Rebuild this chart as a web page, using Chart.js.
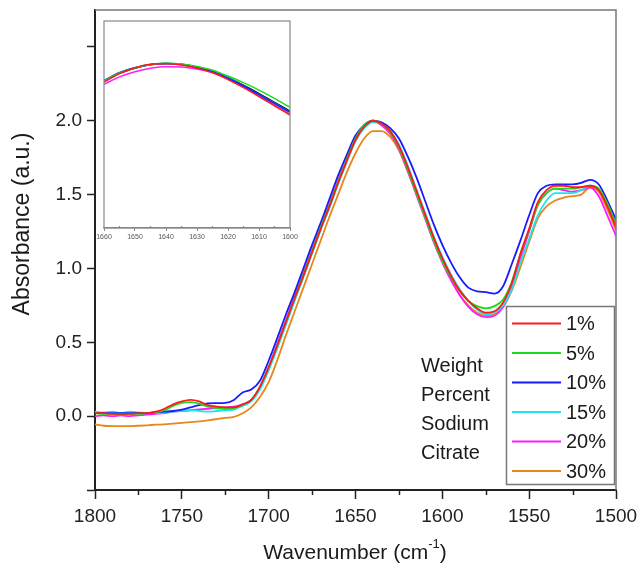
<!DOCTYPE html>
<html>
<head>
<meta charset="utf-8">
<script src="https://cdn.jsdelivr.net/npm/chart.js@4/dist/chart.umd.min.js"></script>
<style>
  body { margin: 0; background: #fff; }
  #wrap { position: relative; width: 639px; height: 569px; }
  #main { position: absolute; left: 0; top: 0; }
  #inset { position: absolute; left: 96px; top: 12px; }
</style>
</head>
<body>
<div id="wrap">
  <canvas id="main" width="639" height="569"></canvas>
  <canvas id="inset" width="206" height="236"></canvas>
</div>
<script>
// wavenumbers (cm-1), main plot
var wavenumbers = [1800, 1795, 1790, 1785, 1780, 1775, 1770, 1765, 1760, 1755, 1750, 1745, 1740, 1735, 1730, 1725, 1720, 1715, 1710, 1705,
  1700, 1695, 1690, 1685, 1680, 1675, 1670, 1665, 1660, 1655, 1650, 1645, 1640, 1635, 1630, 1625, 1620, 1615, 1610, 1605,
  1600, 1595, 1590, 1585, 1580, 1575, 1570, 1565, 1560, 1555, 1550, 1545, 1540, 1535, 1530, 1525, 1520, 1515, 1510, 1505, 1500];

var seriesLabels = ["1%", "5%", "10%", "15%", "20%", "30%"];
var seriesColors = ["#ff1a1a", "#1adc1a", "#1a1aff", "#1ae6f0", "#ff1aff", "#e8861a"];

var pct1 = [0.02, 0.02, 0.015, 0.015, 0.015, 0.02, 0.02, 0.03, 0.05, 0.08, 0.10, 0.11, 0.10, 0.075, 0.065, 0.06, 0.06, 0.08, 0.11, 0.20,
  0.33, 0.48, 0.64, 0.80, 0.95, 1.11, 1.27, 1.42, 1.58, 1.73, 1.87, 1.96, 2.00, 1.98, 1.93, 1.83, 1.69, 1.53, 1.37, 1.21,
  1.07, 0.95, 0.85, 0.78, 0.73, 0.70, 0.71, 0.77, 0.90, 1.10, 1.27, 1.45, 1.53, 1.56, 1.56, 1.55, 1.55, 1.56, 1.53, 1.42, 1.28];
var pct5 = [0.02, 0.015, 0.015, 0.01, 0.015, 0.015, 0.02, 0.025, 0.04, 0.07, 0.09, 0.095, 0.085, 0.065, 0.055, 0.05, 0.055, 0.075, 0.11, 0.20,
  0.33, 0.48, 0.64, 0.80, 0.96, 1.12, 1.28, 1.43, 1.59, 1.74, 1.88, 1.97, 2.00, 1.98, 1.92, 1.82, 1.67, 1.51, 1.35, 1.19,
  1.05, 0.94, 0.85, 0.78, 0.745, 0.73, 0.745, 0.79, 0.91, 1.10, 1.26, 1.43, 1.51, 1.54, 1.54, 1.54, 1.55, 1.56, 1.54, 1.44, 1.30];
var pct10 = [0.02, 0.02, 0.02, 0.02, 0.02, 0.02, 0.02, 0.025, 0.03, 0.035, 0.045, 0.06, 0.075, 0.086, 0.088, 0.09, 0.11, 0.16, 0.18, 0.24,
  0.375, 0.53, 0.69, 0.84, 1.00, 1.16, 1.31, 1.47, 1.63, 1.77, 1.90, 1.97, 2.00, 1.99, 1.95, 1.88, 1.76, 1.62, 1.46, 1.30,
  1.16, 1.04, 0.94, 0.87, 0.845, 0.84, 0.83, 0.88, 1.03, 1.19, 1.36, 1.51, 1.56, 1.57, 1.57, 1.57, 1.58, 1.60, 1.57, 1.46, 1.33];
var pct15 = [0.03, 0.025, 0.03, 0.02, 0.03, 0.025, 0.02, 0.02, 0.025, 0.03, 0.035, 0.04, 0.035, 0.03, 0.035, 0.04, 0.045, 0.07, 0.10, 0.18,
  0.31, 0.46, 0.62, 0.78, 0.94, 1.10, 1.26, 1.41, 1.57, 1.72, 1.86, 1.95, 1.99, 1.98, 1.93, 1.84, 1.70, 1.54, 1.38, 1.22,
  1.08, 0.96, 0.86, 0.78, 0.72, 0.69, 0.70, 0.75, 0.86, 1.04, 1.20, 1.36, 1.46, 1.51, 1.51, 1.51, 1.53, 1.56, 1.53, 1.43, 1.30];
var pct20 = [0.0, 0.005, 0.0, 0.005, 0.0, 0.005, 0.01, 0.015, 0.02, 0.03, 0.035, 0.04, 0.045, 0.05, 0.055, 0.06, 0.065, 0.08, 0.11, 0.19,
  0.33, 0.49, 0.65, 0.81, 0.97, 1.13, 1.29, 1.44, 1.60, 1.75, 1.89, 1.97, 2.00, 1.97, 1.91, 1.81, 1.66, 1.50, 1.34, 1.18,
  1.04, 0.92, 0.82, 0.74, 0.69, 0.67, 0.68, 0.74, 0.87, 1.07, 1.25, 1.43, 1.51, 1.54, 1.53, 1.52, 1.53, 1.55, 1.49, 1.36, 1.22];
var pct30 = [-0.055, -0.065, -0.068, -0.068, -0.067, -0.065, -0.062, -0.058, -0.055, -0.05, -0.045, -0.04, -0.035, -0.028, -0.02, -0.012, -0.005, 0.02, 0.06, 0.13,
  0.23, 0.38, 0.55, 0.71, 0.87, 1.03, 1.19, 1.35, 1.50, 1.65, 1.78, 1.88, 1.93, 1.93, 1.89, 1.80, 1.66, 1.51, 1.35, 1.19,
  1.05, 0.93, 0.82, 0.75, 0.70, 0.68, 0.69, 0.74, 0.85, 1.01, 1.18, 1.34, 1.42, 1.46, 1.48, 1.49, 1.50, 1.55, 1.52, 1.40, 1.26];

var yTicks = [0.0, 0.5, 1.0, 1.5, 2.0];
var xMinor = [1775, 1725, 1675, 1625, 1575, 1525];

// inset (zoom of the amide I peak)
var insetWavenumbers = [1660, 1655, 1650, 1645, 1640, 1635, 1630, 1625, 1620, 1615, 1610, 1605, 1600];
var insetLabels = ["1%", "5%", "10%", "15%", "20%", "black"];
var insetColors = ["#ff1a1a", "#1adc1a", "#1a1aff", "#1ae6f0", "#ff1aff", "#000000"];
var insetRed = [1.905, 1.946, 1.974, 1.991, 1.993, 1.987, 1.972, 1.951, 1.917, 1.878, 1.835, 1.790, 1.746];
var insetGreen = [1.910, 1.949, 1.973, 1.990, 1.996, 1.992, 1.980, 1.962, 1.934, 1.902, 1.866, 1.826, 1.783];
var insetBlue = [1.912, 1.950, 1.974, 1.990, 1.995, 1.990, 1.977, 1.956, 1.923, 1.886, 1.844, 1.802, 1.759];
var insetCyan = [1.914, 1.951, 1.974, 1.989, 1.994, 1.990, 1.977, 1.956, 1.924, 1.887, 1.845, 1.803, 1.760];
var insetMagenta = [1.894, 1.930, 1.955, 1.972, 1.979, 1.978, 1.968, 1.950, 1.920, 1.882, 1.840, 1.795, 1.749];
var insetBlack = [1.908, 1.947, 1.972, 1.989, 1.995, 1.991, 1.978, 1.958, 1.926, 1.890, 1.849, 1.807, 1.765];
var insetMinor = [1655, 1645, 1635, 1625, 1615, 1605];

var noteLines = ["Weight", "Percent", "Sodium", "Citrate"];

var FONT = "'Liberation Sans', Arial, sans-serif";

function toPoints(xs, ys) {
  return xs.map(function (x, i) { return { x: x, y: ys[i] }; });
}

// keep the plot box where the reference has it
function noPad(s) {
  s.paddingTop = 0;
  s.paddingBottom = 0;
  s.paddingLeft = 0;
  s.paddingRight = 0;
}

var mainSeries = [pct1, pct5, pct10, pct15, pct20, pct30];
var mainDatasets = mainSeries.map(function (s, i) {
  return {
    label: seriesLabels[i],
    data: toPoints(wavenumbers, s),
    borderColor: seriesColors[i],
    borderWidth: 1.8,
    pointRadius: 0,
    cubicInterpolationMode: 'monotone',
    fill: false
  };
});

var mainDecor = {
  id: 'mainDecor',
  afterDraw: function (chart) {
    var ctx = chart.ctx;
    var a = chart.chartArea;
    var xs = chart.scales.x;
    ctx.save();

    // gray top / right frame
    ctx.strokeStyle = '#777';
    ctx.lineWidth = 1.5;
    ctx.beginPath();
    ctx.moveTo(a.left, a.top);
    ctx.lineTo(a.right, a.top);
    ctx.lineTo(a.right, a.bottom);
    ctx.stroke();

    // minor ticks on x
    ctx.strokeStyle = '#222';
    ctx.lineWidth = 1.5;
    xMinor.forEach(function (v) {
      var px = Math.round(xs.getPixelForValue(v)) + 0.5;
      ctx.beginPath();
      ctx.moveTo(px, a.bottom);
      ctx.lineTo(px, a.bottom + 5);
      ctx.stroke();
    });

    // legend box
    var bx = 506, by = 306, bw = 108, bh = 178;
    ctx.fillStyle = '#fff';
    ctx.fillRect(bx, by, bw, bh);
    ctx.strokeStyle = '#777';
    ctx.lineWidth = 1.5;
    ctx.strokeRect(bx + 0.5, by + 0.5, bw, bh);
    ctx.font = '20px ' + FONT;
    ctx.textBaseline = 'middle';
    ctx.textAlign = 'left';
    chart.data.datasets.forEach(function (ds, i) {
      var y = 323.5 + i * 29.5;
      ctx.strokeStyle = ds.borderColor;
      ctx.lineWidth = 2;
      ctx.beginPath();
      ctx.moveTo(512, y);
      ctx.lineTo(561, y);
      ctx.stroke();
      ctx.fillStyle = '#1a1a1a';
      ctx.fillText(ds.label, 566, y + 1);
    });

    // note text
    ctx.fillStyle = '#1a1a1a';
    noteLines.forEach(function (t, i) {
      ctx.fillText(t, 421, 366 + i * 29);
    });

    // x title with superscript
    ctx.font = '21px ' + FONT;
    var part1 = 'Wavenumber (cm';
    var part3 = ')';
    var w1 = ctx.measureText(part1).width;
    var w3 = ctx.measureText(part3).width;
    ctx.font = '13px ' + FONT;
    var w2 = ctx.measureText('-1').width;
    var total = w1 + w2 + w3;
    var sx = 355 - total / 2;
    var ty = 553;
    ctx.font = '21px ' + FONT;
    ctx.fillText(part1, sx, ty);
    ctx.font = '13px ' + FONT;
    ctx.fillText('-1', sx + w1, ty - 9);
    ctx.font = '21px ' + FONT;
    ctx.fillText(part3, sx + w1 + w2, ty);

    // y title
    ctx.font = '23px ' + FONT;
    ctx.translate(23, 224);
    ctx.rotate(-Math.PI / 2);
    ctx.textAlign = 'center';
    ctx.fillText('Absorbance (a.u.)', 0, 0);
    ctx.restore();
  }
};

new Chart(document.getElementById('main'), {
  type: 'line',
  data: { datasets: mainDatasets },
  options: {
    responsive: false,
    animation: false,
    devicePixelRatio: 1,
    layout: { padding: { left: 0, top: 10, right: 23, bottom: 0 } },
    plugins: { legend: { display: false }, tooltip: { enabled: false } },
    scales: {
      x: {
        type: 'linear',
        reverse: true,
        min: 1500,
        max: 1800,
        afterFit: function (s) { s.height = 79; noPad(s); },
        ticks: {
          stepSize: 50,
          padding: 6,
          color: '#222',
          font: { family: FONT, size: 19 },
          maxRotation: 0,
          callback: function (v) { return String(v); }
        },
        grid: { drawOnChartArea: false, color: '#222', tickLength: 9, tickWidth: 1.5 },
        border: { color: '#222', width: 2 }
      },
      y: {
        min: -0.5,
        max: 2.75,
        afterFit: function (s) { s.width = 95; noPad(s); },
        ticks: {
          stepSize: 0.5,
          includeBounds: false,
          padding: 5,
          color: '#222',
          font: { family: FONT, size: 19 },
          callback: function (v) {
            var hit = yTicks.filter(function (t) { return Math.abs(t - v) < 1e-6; });
            return hit.length ? v.toFixed(1) : '';
          }
        },
        grid: { drawOnChartArea: false, color: '#222', tickLength: 8, tickWidth: 1.5 },
        border: { color: '#222', width: 2 }
      }
    }
  },
  plugins: [mainDecor]
});

// inset chart
var insetSeries = [insetRed, insetGreen, insetBlue, insetCyan, insetMagenta, insetBlack];
var insetDatasets = insetSeries.map(function (s, i) {
  return {
    label: insetLabels[i],
    data: toPoints(insetWavenumbers, s),
    borderColor: insetColors[i],
    borderWidth: 1.5,
    pointRadius: 0,
    cubicInterpolationMode: 'monotone',
    fill: false
  };
});

var insetDecor = {
  id: 'insetDecor',
  afterDraw: function (chart) {
    var ctx = chart.ctx;
    var a = chart.chartArea;
    var xs = chart.scales.x;
    ctx.save();
    ctx.strokeStyle = '#888';
    ctx.lineWidth = 1.2;
    ctx.strokeRect(a.left, a.top, a.right - a.left, a.bottom - a.top);
    insetMinor.forEach(function (v) {
      var px = xs.getPixelForValue(v);
      ctx.beginPath();
      ctx.moveTo(px, a.bottom);
      ctx.lineTo(px, a.bottom - 2);
      ctx.stroke();
    });
    ctx.restore();
  }
};

new Chart(document.getElementById('inset'), {
  type: 'line',
  data: { datasets: insetDatasets },
  options: {
    responsive: false,
    animation: false,
    devicePixelRatio: 1,
    layout: { padding: { left: 8, top: 9, right: 12, bottom: 0 } },
    plugins: { legend: { display: false }, tooltip: { enabled: false } },
    scales: {
      x: {
        type: 'linear',
        reverse: true,
        min: 1600,
        max: 1660,
        afterFit: function (s) { s.height = 20; noPad(s); },
        ticks: {
          stepSize: 10,
          padding: 2,
          color: '#555',
          font: { family: "'Liberation Sans Narrow', 'Liberation Sans', Arial, sans-serif", size: 7 },
          maxRotation: 0,
          callback: function (v) { return String(v); }
        },
        grid: { drawOnChartArea: false, color: '#888', tickLength: 3, tickWidth: 1 },
        border: { color: '#888', width: 1.2 }
      },
      y: {
        display: false,
        min: 1.2,
        max: 2.2
      }
    }
  },
  plugins: [insetDecor]
});
</script>
</body>
</html>
